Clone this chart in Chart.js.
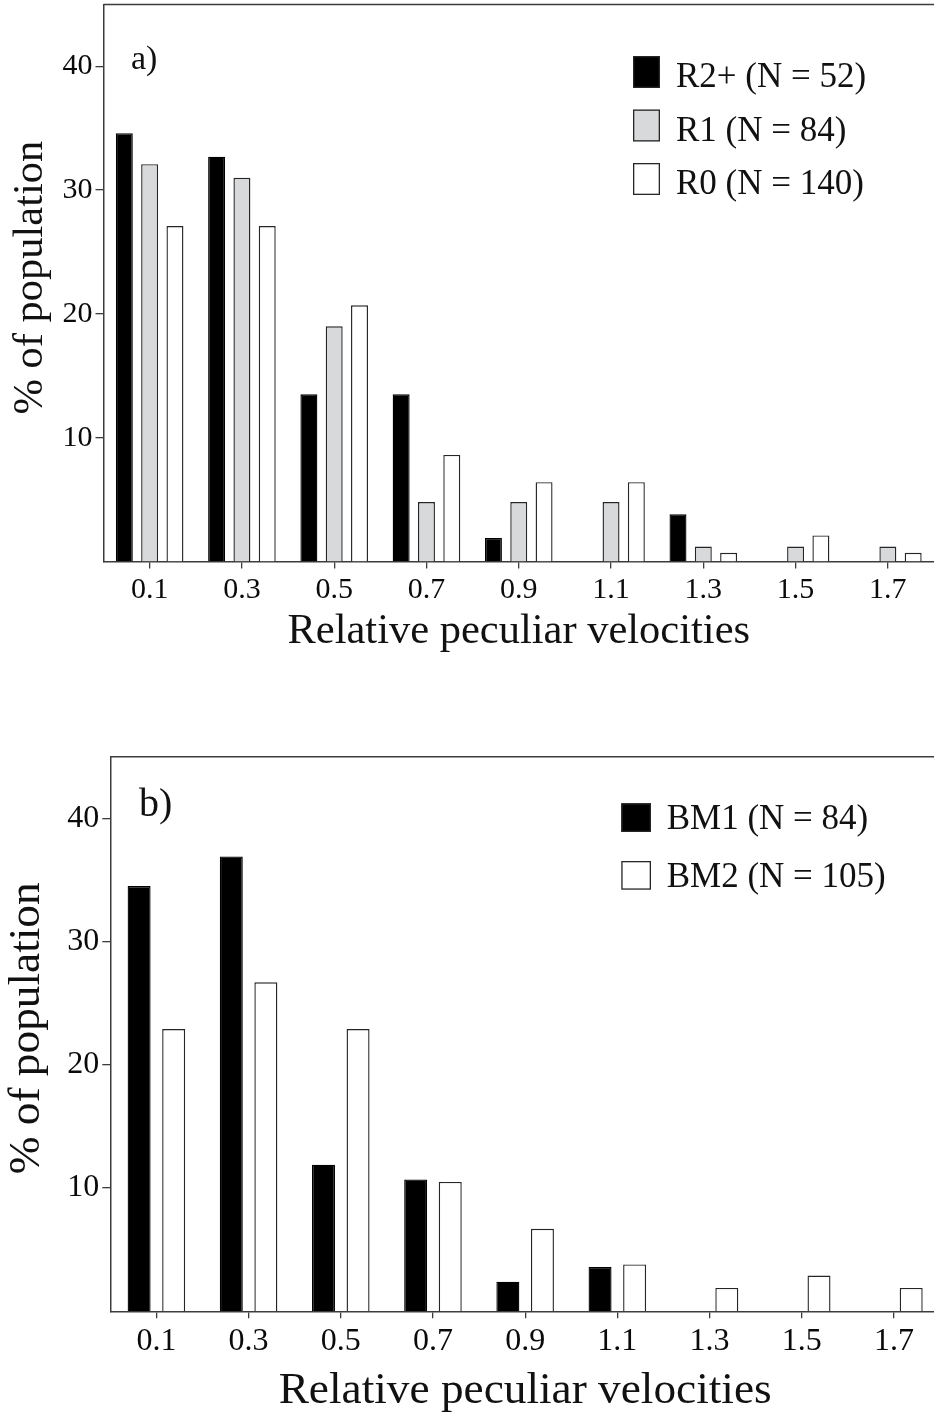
<!DOCTYPE html>
<html>
<head>
<meta charset="utf-8">
<script src="https://cdn.jsdelivr.net/npm/chart.js@4.4.1/dist/chart.umd.min.js"></script>
<style>
  html, body { margin: 0; padding: 0; background: #fff; overflow: hidden; width: 934px; height: 1418px; }
  #cA { position: absolute; left: 0; top: 0; }
  #cB { position: absolute; left: 0; top: 700px; }
</style>
</head>
<body>
<canvas id="cA" width="934" height="700"></canvas>
<canvas id="cB" width="940" height="718"></canvas>
<script>
// ---- data ----
const categories = ['0.1', '0.3', '0.5', '0.7', '0.9', '1.1', '1.3', '1.5', '1.7'];
const r2plus = [34.6, 32.7, 13.5, 13.5, 1.9, 0, 3.8, 0, 0];
const r1     = [32.1, 31.0, 19.0, 4.8, 4.8, 4.8, 1.2, 1.2, 1.2];
const r0     = [27.1, 27.1, 20.7, 8.6, 6.4, 6.4, 0.7, 2.1, 0.7];
const bm1    = [34.5, 36.9, 11.9, 10.7, 2.4, 3.6, 0, 0, 0];
const bm2    = [22.9, 26.7, 22.9, 10.5, 6.7, 3.8, 1.9, 2.9, 1.9];
const yTicks = [10, 20, 30, 40];
const yMax = 45;
const labelsA = ['R2+ (N = 52)', 'R1 (N = 84)', 'R0 (N = 140)'];
const labelsB = ['BM1 (N = 84)', 'BM2 (N = 105)'];
const xTitle = 'Relative peculiar velocities';
const yTitle = '\u00A0% of population';

Chart.defaults.font.family = "'Liberation Serif', 'Times New Roman', serif";
Chart.defaults.color = '#111';

const AXIS = '#3c3c3c';
const BAR_BORDER = '#262626';

// frame top line + panel label + legend inside plot
const decor = {
  id: 'decor',
  afterDraw(chart, args, o) {
    const ctx = chart.ctx, ca = chart.chartArea;
    ctx.save();
    ctx.strokeStyle = AXIS;
    ctx.lineWidth = 1.5;
    ctx.beginPath();
    ctx.moveTo(ca.left, ca.top);
    ctx.lineTo(chart.width, ca.top);
    ctx.stroke();
    // panel label
    ctx.fillStyle = '#111';
    ctx.font = o.panelFont;
    ctx.textBaseline = 'alphabetic';
    ctx.textAlign = 'left';
    ctx.fillText(o.panel, o.panelX, o.panelY);
    // legend
    ctx.font = o.legendFont;
    chart.data.datasets.forEach((ds, i) => {
      const y = o.boxY + i * o.dy;
      ctx.fillStyle = ds.backgroundColor;
      ctx.fillRect(o.boxX, y, o.boxW, o.boxH);
      ctx.strokeStyle = BAR_BORDER;
      ctx.lineWidth = 1.3;
      ctx.strokeRect(o.boxX + 0.65, y + 0.65, o.boxW - 1.3, o.boxH - 1.3);
      ctx.fillStyle = '#111';
      ctx.fillText(ds.label, o.textX, y + o.textDy);
    });
    ctx.restore();
  }
};

function makeOptions(cfg) {
  return {
    responsive: false,
    animation: false,
    devicePixelRatio: 1,
    layout: { padding: { top: cfg.padTop, right: 0, left: 0, bottom: 0 } },
    plugins: {
      legend: { display: false },
      tooltip: { enabled: false },
      decor: cfg.decor
    },
    scales: {
      x: {
        grid: { offset: false, drawOnChartArea: false, drawTicks: true, tickLength: 7, color: AXIS, lineWidth: 1.3 },
        border: { display: true, color: AXIS, width: 1.5 },
        ticks: { font: { size: cfg.tickSize }, color: '#0a0a0a', padding: cfg.xTickPad, maxRotation: 0, autoSkip: false },
        title: { display: true, text: xTitle, font: { size: cfg.titleSize }, color: '#111', padding: { top: 0, bottom: cfg.xTitlePad } },
        afterFit: s => { s.height = cfg.xHeight; s.paddingLeft = 0; s.paddingRight = 0; }
      },
      y: {
        min: 0,
        max: yMax,
        afterBuildTicks: s => { s.ticks = yTicks.map(v => ({ value: v })); },
        grid: { drawOnChartArea: false, drawTicks: true, tickLength: 8, color: AXIS, lineWidth: 1.3 },
        border: { display: true, color: AXIS, width: 1.5 },
        ticks: { font: { size: cfg.tickSize }, color: '#0a0a0a', padding: 3 },
        title: { display: true, text: yTitle, font: { size: cfg.titleSize }, color: '#111', padding: { top: cfg.yTitlePad, bottom: 0 } },
        afterFit: s => { s.width = cfg.yWidth; s.paddingTop = 0; s.paddingBottom = 0; }
      }
    }
  };
}

new Chart(document.getElementById('cA'), {
  type: 'bar',
  data: {
    labels: categories,
    datasets: [
      { label: labelsA[0], data: r2plus, backgroundColor: '#000000', borderColor: '#000000', borderWidth: 1.3 },
      { label: labelsA[1], data: r1, backgroundColor: '#d8d9db', borderColor: BAR_BORDER, borderWidth: 1.4 },
      { label: labelsA[2], data: r0, backgroundColor: '#ffffff', borderColor: BAR_BORDER, borderWidth: 1.4 }
    ].map(d => Object.assign(d, { categoryPercentage: 0.823, barPercentage: 0.67 }))
  },
  options: makeOptions({
    padTop: 4.5, tickSize: 30, titleSize: 42.5, xTickPad: 4, xTitlePad: 43, xHeight: 138.6,
    yTitlePad: 5, yWidth: 103.5,
    decor: { panel: 'a)', panelFont: "34px 'Liberation Serif'", panelX: 131, panelY: 69,
             legendFont: "35px 'Liberation Serif'", boxX: 633, boxY: 56, boxW: 27, boxH: 32, dy: 53.5, textX: 676, textDy: 31 }
  }),
  plugins: [decor]
});

new Chart(document.getElementById('cB'), {
  type: 'bar',
  data: {
    labels: categories,
    datasets: [
      { label: labelsB[0], data: bm1, backgroundColor: '#000000', borderColor: '#000000', borderWidth: 1.3 },
      { label: labelsB[1], data: bm2, backgroundColor: '#ffffff', borderColor: BAR_BORDER, borderWidth: 1.4 }
    ].map(d => Object.assign(d, { categoryPercentage: 0.75, barPercentage: 0.665 }))
  },
  options: makeOptions({
    padTop: 56.7, tickSize: 32, titleSize: 45.3, xTickPad: 4, xTitlePad: 0, xHeight: 106.7,
    yTitlePad: 0, yWidth: 110.3,
    decor: { panel: 'b)', panelFont: "40px 'Liberation Serif'", panelX: 139, panelY: 116,
             legendFont: "35px 'Liberation Serif'", boxX: 621.3, boxY: 103.3, boxW: 29.7, boxH: 28.7, dy: 57.7, textX: 666.7, textDy: 26 }
  }),
  plugins: [decor]
});
</script>
</body>
</html>
